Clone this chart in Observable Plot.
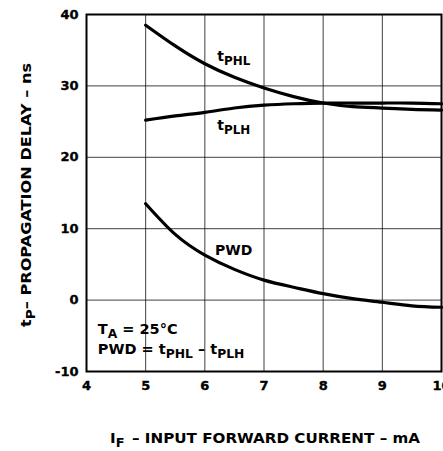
<!DOCTYPE html>
<html>
<head>
<meta charset="utf-8">
<script src="https://cdn.jsdelivr.net/npm/d3@7"></script>
<script src="https://cdn.jsdelivr.net/npm/@observablehq/plot@0.6"></script>
<style>
  html, body { margin: 0; padding: 0; background: #fff; }
  #chart svg { display: block; }
</style>
</head>
<body>
<div id="chart"></div>
<script>
// Input forward current (mA)
const current = [5, 5.5, 6, 6.5, 7, 7.5, 8, 8.5, 9, 9.5, 10];
// Propagation delays (ns)
const tPHL = [38.5, 35.6, 33.1, 31.2, 29.7, 28.5, 27.6, 27.1, 26.9, 26.7, 26.6];
const tPLH = [25.2, 25.8, 26.3, 26.9, 27.3, 27.5, 27.6, 27.6, 27.6, 27.6, 27.5];
const pwd  = [13.5, 9.2, 6.3, 4.3, 2.8, 1.8, 0.9, 0.2, -0.3, -0.8, -1.0];
const xTicks = [4, 5, 6, 7, 8, 9, 10];
const yTicks = [-10, 0, 10, 20, 30, 40];

const rows = (ys, name) => current.map((x, i) => ({x, y: ys[i], name}));
const data = [...rows(tPHL, "tPHL"), ...rows(tPLH, "tPLH"), ...rows(pwd, "PWD")];

const font = "'DejaVu Sans', Arial, Helvetica, sans-serif";

const chart = Plot.plot({
  width: 443,
  height: 451,
  marginLeft: 86,
  marginRight: 2,
  marginTop: 14,
  marginBottom: 80,
  style: {fontFamily: font, fontSize: "13px", fontWeight: "bold", color: "#000", background: "#fff"},
  x: {domain: [4, 10], label: null},
  y: {domain: [-10, 40], label: null},
  marks: [
    Plot.gridX(xTicks, {stroke: "#000", strokeOpacity: 0.75, strokeWidth: 1}),
    Plot.gridY(yTicks, {stroke: "#000", strokeOpacity: 0.75, strokeWidth: 1}),
    Plot.frame({stroke: "#000", strokeWidth: 2}),
    Plot.axisX(xTicks, {tickSize: 0, tickPadding: 9, fontSize: 13, fontWeight: "bold", tickFormat: d => String(d), label: null}),
    Plot.axisY(yTicks, {tickSize: 0, tickPadding: 8, fontSize: 13, fontWeight: "bold", tickFormat: d => String(d), label: null}),
    Plot.line(data, {x: "x", y: "y", z: "name", stroke: "#000", strokeWidth: 3.2, curve: "natural"})
  ]
});

document.getElementById("chart").appendChild(chart);
chart.querySelectorAll("text").forEach(t => {
  t.style.fontWeight = "bold";
  t.style.fontFamily = font;
  t.style.stroke = "#000";
  t.style.strokeWidth = "0.35px";
});

const sx = chart.scale("x"), sy = chart.scale("y");
const svg = d3.select(chart);

function sub(g, x, y, parts, size, anchor) {
  const t = g.append("text")
    .attr("x", x).attr("y", y)
    .attr("font-family", font).attr("font-weight", "bold")
    .attr("font-size", size).attr("fill", "#000")
    .attr("text-anchor", anchor || "start");
  parts.forEach(([txt, s]) => {
    const ts = t.append("tspan").text(txt);
    if (s === "sub") ts.attr("dy", 4).attr("font-size", size * 0.85);
    else if (s === "up") ts.attr("dy", -4);
  });
  return t;
}

const g = svg.append("g");
// curve labels
sub(g, sx.apply(6.22), sy.apply(33.4), [["t", null], ["PHL", "sub"]], 14);
sub(g, sx.apply(6.22), sy.apply(23.7), [["t", null], ["PLH", "sub"]], 14);
sub(g, sx.apply(6.18), sy.apply(6.3), [["PWD", null]], 14);
// conditions
sub(g, sx.apply(4.2), sy.apply(-4.8), [["T", null], ["A", "sub"], ["\u00a0= 25°C", "up"]], 14.5);
sub(g, sx.apply(4.2), sy.apply(-7.6), [["PWD = t", null], ["PHL", "sub"], ["\u00a0\u2013 t", "up"], ["PLH", "sub"]], 14.5);

// axis titles
const xl = sub(g, 110, 443, [["I", null], ["F", "sub"], ["\u2002\u2013 INPUT FORWARD CURRENT \u2013 mA", "up"]], 13.5, "start");
xl.attr("textLength", 310).attr("lengthAdjust", "spacingAndGlyphs");
const yl = sub(g, -132, 0, [["t", null], ["P", "sub"], ["\u2013 PROPAGATION DELAY \u2013 ns", "up"]], 13.5, "start");
yl.attr("transform", "translate(31,195) rotate(-90)")
  .attr("textLength", 264).attr("lengthAdjust", "spacingAndGlyphs");
</script>
</body>
</html>
